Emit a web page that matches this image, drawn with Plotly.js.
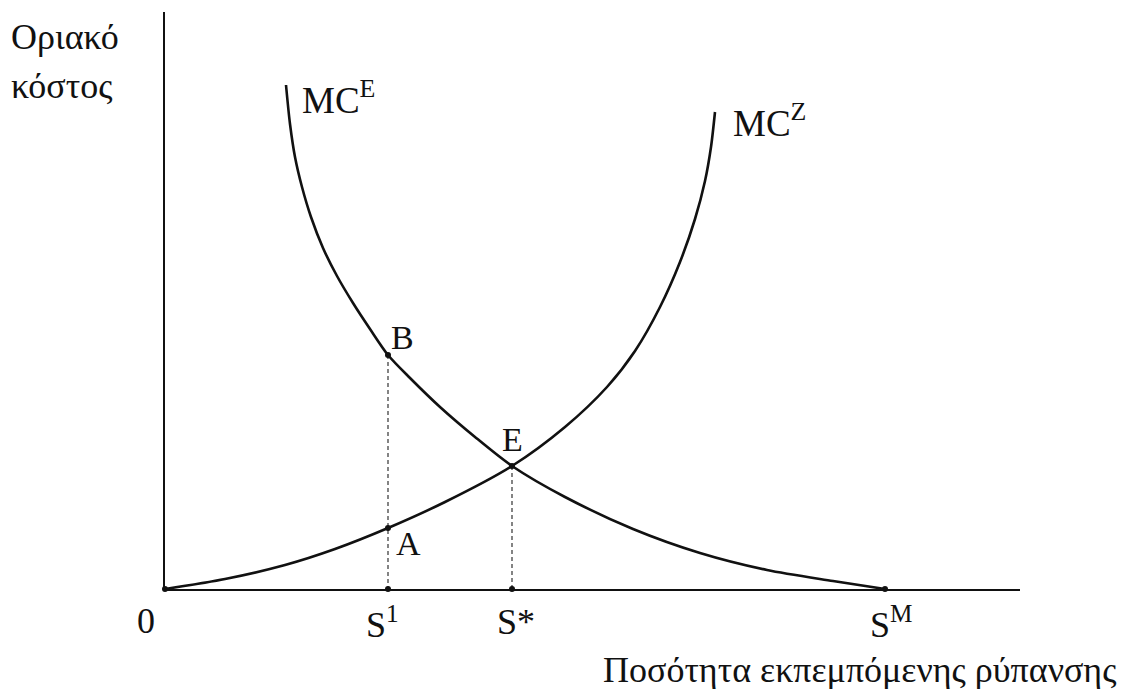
<!DOCTYPE html>
<html>
<head>
<meta charset="utf-8">
<script src="https://cdn.plot.ly/plotly-3.0.1.min.js"></script>
<style>html,body{margin:0;padding:0;background:#fff;}#chart{width:1130px;height:689px;}</style>
</head>
<body>
<div id="chart"></div>
<script>
// ---- data (arbitrary units) ----
const mcE_x = [121, 125, 130, 137, 146, 158, 172, 188, 205, 223, 245, 275, 310, 347, 400, 468, 535, 602, 668, 720];
const mcE_y = [504, 465, 432, 402, 372, 341, 313, 286, 260, 234, 211, 182, 152, 123, 92, 60, 36, 19, 8, 0];
const mcZ_x = [0, 60, 120, 170, 223, 280, 347, 400, 442, 470, 495, 515, 530, 540, 546, 550];
const mcZ_y = [0, 10, 24, 40, 61, 87, 123, 162, 202, 238, 282, 327, 370, 408, 442, 477];

const keyNames = ['B', 'A', 'E'];
const keyX = [223, 223, 347];
const keyY = [234, 61, 123];

const tickVals = [0, 223, 347, 720];
const tickText = ['0', 'S<sup>1</sup>', 'S*', 'S<sup>M</sup>'];

const curveLabels = ['MC<sup>E</sup>', 'MC<sup>Z</sup>'];
const yTitleLines = ['Οριακό', 'κόστος'];
const xTitle = 'Ποσότητα εκπεμπόμενης ρύπανσης';

// ---- figure ----
const serif = '"Liberation Serif", "Times New Roman", "DejaVu Serif", serif';
const ink = '#111';

const traces = [
  {x: mcE_x, y: mcE_y, mode: 'lines', line: {color: ink, width: 2.6, shape: 'spline', smoothing: 0.8}, hoverinfo: 'skip', name: 'MCE'},
  {x: mcZ_x, y: mcZ_y, mode: 'lines', line: {color: ink, width: 2.6, shape: 'spline', smoothing: 0.8}, hoverinfo: 'skip', name: 'MCZ'},
  // dashed drop lines from B and E
  {x: [keyX[0], keyX[0]], y: [keyY[0], 0], mode: 'lines', line: {color: '#333', width: 1.2, dash: '4px,3px'}, hoverinfo: 'skip'},
  {x: [keyX[2], keyX[2]], y: [keyY[2], 0], mode: 'lines', line: {color: '#333', width: 1.2, dash: '4px,3px'}, hoverinfo: 'skip'},
  // dots
  {x: keyX.concat(tickVals), y: keyY.concat(tickVals.map(() => 0)), mode: 'markers',
   marker: {color: ink, size: 6}, hoverinfo: 'skip', cliponaxis: false}
];

const annotations = [];
const tickShift = [[-19, -32], [-6, -33], [4, -33], [6, -33]];
tickVals.forEach((v, i) => annotations.push({
  x: v, y: 0, xref: 'x', yref: 'y', text: tickText[i], showarrow: false,
  xanchor: 'center', yanchor: 'middle', xshift: tickShift[i][0], yshift: tickShift[i][1],
  font: {family: serif, size: 36, color: ink}
}));
const keyShift = [[14, 18], [20, -15], [0, 27]];
keyNames.forEach((n, i) => annotations.push({
  x: keyX[i], y: keyY[i], xref: 'x', yref: 'y', text: n, showarrow: false,
  xanchor: 'center', yanchor: 'middle', xshift: keyShift[i][0], yshift: keyShift[i][1],
  font: {family: serif, size: 34, color: ink}
}));
annotations.push({
  x: mcE_x[0], y: mcE_y[0], xref: 'x', yref: 'y', text: curveLabels[0], showarrow: false,
  xanchor: 'left', yanchor: 'middle', xshift: 14, yshift: -12,
  font: {family: serif, size: 37, color: ink}
});
annotations.push({
  x: mcZ_x[mcZ_x.length - 1], y: mcZ_y[mcZ_y.length - 1], xref: 'x', yref: 'y', text: curveLabels[1], showarrow: false,
  xanchor: 'left', yanchor: 'middle', xshift: 16, yshift: -8,
  font: {family: serif, size: 37, color: ink}
});
annotations.push({x: -0.182, y: 0.9567, xref: 'paper', yref: 'paper', text: yTitleLines[0], showarrow: false,
  xanchor: 'left', yanchor: 'middle', font: {family: serif, size: 36, color: ink}});
annotations.push({x: -0.182, y: 0.8717, xref: 'paper', yref: 'paper', text: yTitleLines[1], showarrow: false,
  xanchor: 'left', yanchor: 'middle', font: {family: serif, size: 36, color: ink}});
annotations.push({x: 1.1146, y: -0.1404, xref: 'paper', yref: 'paper', text: xTitle, showarrow: false,
  xanchor: 'right', yanchor: 'middle', font: {family: serif, size: 36, color: ink}});

const axisCommon = {showgrid: false, zeroline: false, showticklabels: false, ticks: '',
  showline: true, linecolor: ink, linewidth: 2, fixedrange: true};

const layout = {
  width: 1130, height: 689,
  margin: {l: 165, r: 110, t: 12, b: 100, pad: 0},
  paper_bgcolor: '#fff', plot_bgcolor: '#fff',
  font: {family: serif, color: ink},
  showlegend: false,
  xaxis: Object.assign({range: [0, 855]}, axisCommon),
  yaxis: Object.assign({range: [0, 577]}, axisCommon),
  annotations: annotations
};

Plotly.newPlot('chart', traces, layout, {displayModeBar: false, staticPlot: true});
</script>
</body>
</html>
